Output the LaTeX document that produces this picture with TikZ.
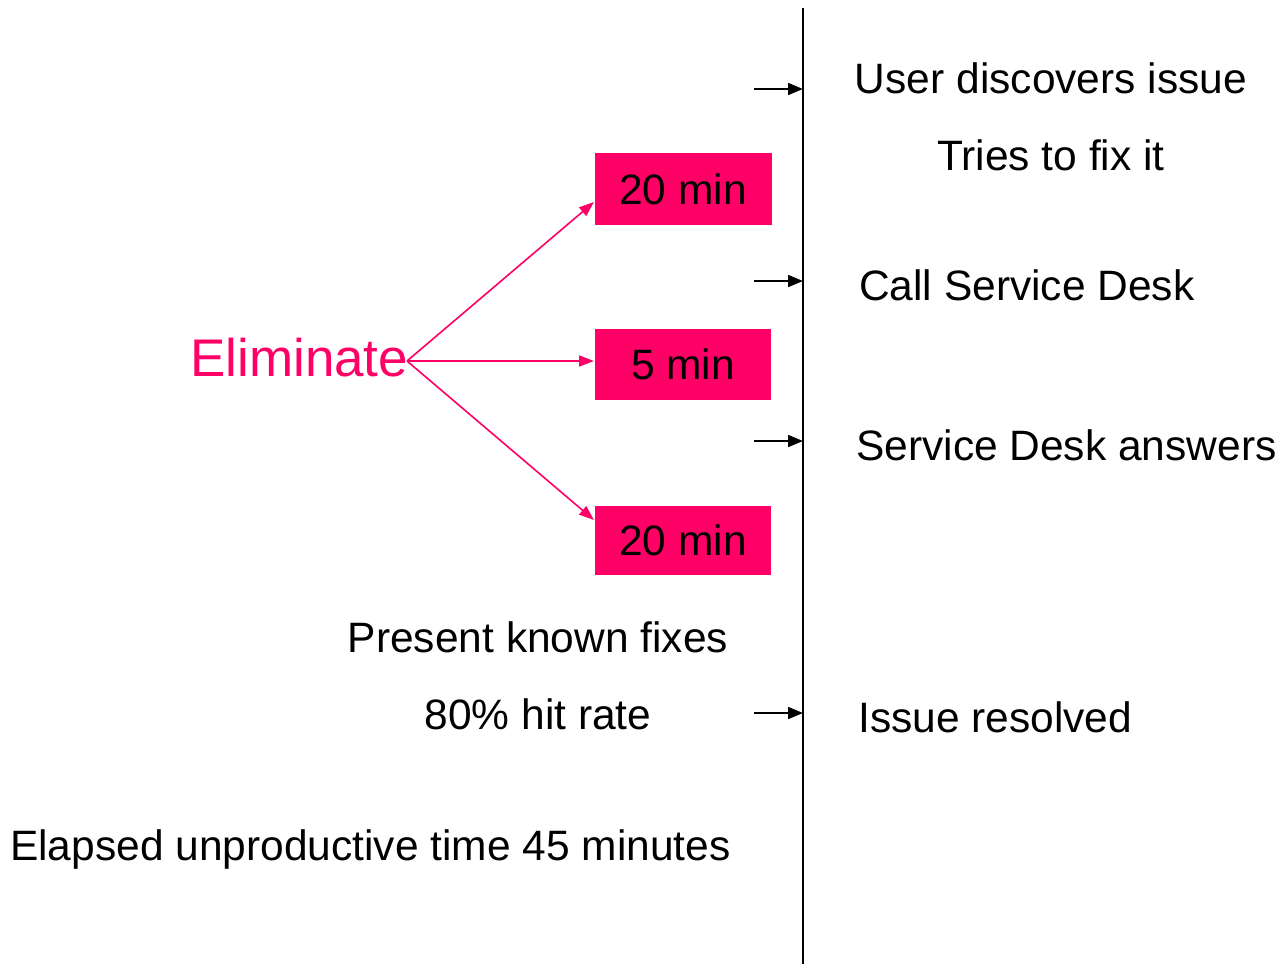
\documentclass[tikz,border=0pt]{standalone}
\usepackage{fontspec}
\setmainfont{Liberation Sans}
\usetikzlibrary{arrows.meta}
\definecolor{pinkc}{HTML}{FF0066}
\begin{document}
\begin{tikzpicture}[x=1pt,y=-1pt,
  txt/.style={inner sep=0pt,font=\fontsize{42.5}{50}\selectfont},
  pbox/.style={fill=pinkc,draw=none,inner sep=0pt,minimum width=177pt,minimum height=72pt,font=\fontsize{42.5}{50}\selectfont},
  barr/.style={line width=1.6pt,-{Triangle[length=15pt,width=12pt]}},
  parr/.style={pinkc,line width=1.6pt,-{Triangle[length=15pt,width=11pt]}}]
\useasboundingbox (0,0) rectangle (1281,964);
% timeline
\coordinate (ltop) at (803,8);
\coordinate (lbot) at (803,964);
\draw[line width=2pt] (ltop) -- (lbot);
% right texts
\node[txt,anchor=base] (t1) at (1051,93) {User discovers issue};
\node[txt,anchor=base] (t2) at (1051,170) {Tries to fix it};
\node[txt,anchor=base west] (t3) at (859,300) {Call Service Desk};
\node[txt,anchor=base west] (t4) at (856,460) {Service Desk answers};
\node[txt,anchor=base west] (t5) at (858,732) {Issue resolved};
% small arrows
\foreach \y/\n in {89/a,281/b,441/c,713/d}{
  \coordinate (s\n) at (754,\y);
  \coordinate (e\n) at (803,\y);
  \draw[barr] (s\n) -- (e\n);
}
% boxes
\node[pbox] (b1) at (683,189) {20 min};
\node[pbox,minimum width=176pt,minimum height=71pt] (b2) at (683,364.5) {5 min};
\node[pbox,minimum width=176pt,minimum height=69pt] (b3) at (683,540.5) {20 min};
% Eliminate
\node[inner sep=0pt,anchor=base west,text=pinkc,font=\fontsize{53}{60}\selectfont] (elim) at (190,376) {Eliminate};
\coordinate (src) at (407,361);
\coordinate (e1) at (594,202);
\coordinate (e2) at (594,361);
\coordinate (e3) at (594,520);
\draw[parr] (src) -- (e1);
\draw[parr] (src) -- (e2);
\draw[parr] (src) -- (e3);
% left texts
\node[txt,anchor=base] (p1) at (538,652) {Present known fixes};
\node[txt,anchor=base] (p2) at (538,729) {80\% hit rate};
\node[txt,anchor=base west] (p3) at (10,860) {Elapsed unproductive time 45 minutes};
\end{tikzpicture}
\end{document}
